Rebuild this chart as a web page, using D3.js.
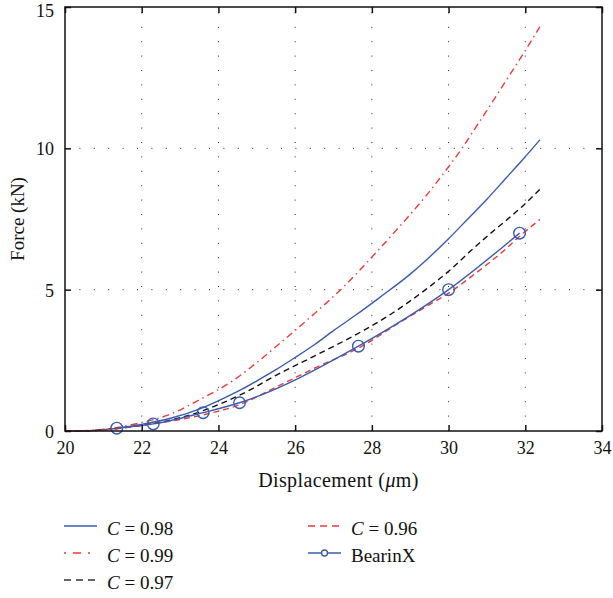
<!DOCTYPE html>
<html>
<head>
<meta charset="utf-8">
<script src="https://cdn.jsdelivr.net/npm/d3@7"></script>
<style>
  body { margin: 0; background: #fff; }
  text { font-family: "Liberation Serif", "Times New Roman", serif; fill: #111; }
</style>
</head>
<body>
<div id="vis"></div>
<script>
const FRAME_WIDTH = 613;
const FRAME_HEIGHT = 598;
const MARGINS = {left: 65, right: 11, top: 7, bottom: 167};

// data: [displacement um, force kN]
const c98 = [[20,0],[20.6,0.01],[21.35,0.09],[21.9,0.21],[22.75,0.45],[23.6,0.83],[24.2,1.2],[24.6,1.47],
  [25.1,1.85],[25.5,2.17],[26,2.6],[26.5,3.05],[27,3.55],[27.6,4.12],[28.2,4.72],[29,5.55],[29.5,6.15],
  [30,6.8],[30.5,7.5],[31,8.2],[31.5,8.95],[31.9,9.55],[32.38,10.3]];
const c99 = [[20,0],[20.5,0.01],[21.2,0.09],[21.9,0.27],[22.7,0.57],[23.5,1.1],[24.4,1.8],[25,2.42],
  [25.6,3.1],[26.5,4.15],[27.3,5.15],[28.1,6.3],[28.7,7.2],[29.4,8.3],[30,9.35],[30.35,10],[30.65,10.62],
  [31.1,11.55],[31.5,12.4],[31.95,13.35],[32.38,14.3]];
const c97 = [[20,0],[20.6,0.01],[21.3,0.08],[22,0.2],[22.8,0.4],[23.6,0.72],[24,0.93],[24.75,1.4],
  [25.5,1.97],[26.5,2.65],[27.6,3.42],[28.4,4.05],[29.4,5.0],[30,5.65],[30.6,6.4],[31.1,7.0],[31.5,7.45],
  [31.95,7.98],[32.38,8.55]];
const c96 = [[20,0],[20.6,0.01],[21.3,0.07],[22,0.2],[22.8,0.36],[23.6,0.57],[24.55,0.93],[25.5,1.55],
  [26.5,2.22],[27.7,2.97],[28.8,3.9],[29.35,4.35],[30.05,4.92],[30.6,5.47],[31.1,6.0],[31.5,6.45],
  [31.86,6.9],[32.38,7.48]];
const bearinx = [[21.35,0.1],[22.3,0.25],[23.6,0.65],[24.55,1.0],[27.65,3.0],[30,5.0],[31.85,7.0]];

const X_TICKS = [20, 22, 24, 26, 28, 30, 32, 34];
const Y_TICKS = [0, 5, 10, 15];

const BLUE = "#3a5bb0";
const RED = "#f03a3a";

const svg = d3.select("#vis").append("svg")
  .attr("width", FRAME_WIDTH)
  .attr("height", FRAME_HEIGHT);

const x = d3.scaleLinear().domain([20, 34]).range([MARGINS.left, FRAME_WIDTH - MARGINS.right]);
const y = d3.scaleLinear().domain([0, 15]).range([FRAME_HEIGHT - MARGINS.bottom, MARGINS.top]);

// dotted grid
const grid = svg.append("g").attr("stroke", "#222").attr("stroke-width", 1).attr("stroke-dasharray", "1,13.4");
grid.selectAll(".gx").data(X_TICKS.slice(1, -1)).enter().append("line")
  .attr("x1", d => x(d)).attr("x2", d => x(d))
  .attr("y1", y(0)).attr("y2", y(15));
grid.selectAll(".gy").data(Y_TICKS.slice(1, -1)).enter().append("line")
  .attr("x1", x(20)).attr("x2", x(34))
  .attr("y1", d => y(d)).attr("y2", d => y(d));

// curves
const line = d3.line().x(d => x(d[0])).y(d => y(d[1])).curve(d3.curveMonotoneX);
const series = [
  {data: c99, color: RED, dash: "7,4,1.5,4"},
  {data: c98, color: BLUE, dash: null},
  {data: c97, color: "#111", dash: "6,4"},
  {data: c96, color: RED, dash: "6,4"},
  {data: bearinx, color: BLUE, dash: null}
];
series.forEach(s => {
  svg.append("path")
    .datum(s.data)
    .attr("fill", "none")
    .attr("stroke", s.color)
    .attr("stroke-width", 1.4)
    .attr("stroke-dasharray", s.dash)
    .attr("d", line);
});
svg.selectAll(".mk").data(bearinx).enter().append("circle")
  .attr("cx", d => x(d[0])).attr("cy", d => y(d[1]))
  .attr("r", 5.8)
  .attr("fill", "none")
  .attr("stroke", BLUE)
  .attr("stroke-width", 1.4);

// axes, ticks pointing inward on all four sides
const xb = d3.axisBottom(x).tickValues(X_TICKS).tickSizeInner(-6).tickSizeOuter(0).tickPadding(10);
const xt = d3.axisTop(x).tickValues(X_TICKS).tickSizeInner(-6).tickSizeOuter(0).tickFormat("");
const yl = d3.axisLeft(y).tickValues(Y_TICKS).tickSizeInner(-6).tickSizeOuter(0).tickPadding(11);
const yr = d3.axisRight(y).tickValues(Y_TICKS).tickSizeInner(-6).tickSizeOuter(0).tickFormat("");

function styleAxis(g) {
  g.select(".domain").remove();
  g.selectAll(".tick line").attr("stroke", "#111").attr("stroke-width", 1.5);
  g.selectAll(".tick text").attr("font-family", "Liberation Serif").attr("font-size", 18).attr("fill", "#111");
}
svg.append("g").attr("transform", `translate(0,${y(0)})`).call(xb).call(styleAxis);
svg.append("g").attr("transform", `translate(0,${y(15)})`).call(xt).call(styleAxis);
const gl = svg.append("g").attr("transform", `translate(${x(20)},0)`).call(yl).call(styleAxis);
// top label would touch the window edge, nudge it down a little
gl.selectAll(".tick text").attr("dy", d => d === 15 ? "0.52em" : "0.36em");
svg.append("g").attr("transform", `translate(${x(34)},0)`).call(yr).call(styleAxis);

svg.append("rect")
  .attr("x", x(20)).attr("y", y(15))
  .attr("width", x(34) - x(20)).attr("height", y(0) - y(15))
  .attr("fill", "none").attr("stroke", "#111").attr("stroke-width", 1.5);

// axis titles
const xt_label = svg.append("text")
  .attr("x", (x(20) + x(34)) / 2 + 5)
  .attr("y", 487)
  .attr("text-anchor", "middle")
  .attr("font-size", 20)
  .attr("letter-spacing", 0.4);
xt_label.append("tspan").text("Displacement (");
xt_label.append("tspan").attr("font-style", "italic").text("μ");
xt_label.append("tspan").text("m)");

svg.append("text")
  .attr("transform", `translate(24,${(y(0) + y(15)) / 2}) rotate(-90)`)
  .attr("text-anchor", "middle")
  .attr("font-size", 19)
  .text("Force (kN)");

// legend
const legend = [
  {label: "0.98", color: BLUE, dash: null, col: 0, row: 0},
  {label: "0.99", color: RED, dash: "2,7,8,7", col: 0, row: 1},
  {label: "0.97", color: "#333", dash: "7,5", col: 0, row: 2},
  {label: "0.96", color: RED, dash: "7,5", col: 1, row: 0},
  {label: "BearinX", color: BLUE, dash: null, col: 1, row: 1, marker: true}
];
const colX = [64, 308];
const rowY = [526, 553, 580];
legend.forEach(l => {
  const lx = colX[l.col], ly = rowY[l.row];
  svg.append("line")
    .attr("x1", lx).attr("x2", lx + 33)
    .attr("y1", ly).attr("y2", ly)
    .attr("stroke", l.color).attr("stroke-width", 1.4)
    .attr("stroke-dasharray", l.dash);
  if (l.marker) {
    svg.append("circle").attr("cx", lx + 16.5).attr("cy", ly).attr("r", 3)
      .attr("fill", "#fff").attr("stroke", l.color).attr("stroke-width", 1.4);
  }
  const t = svg.append("text").attr("x", lx + 43).attr("y", ly + 9).attr("font-size", 19);
  if (l.label === "BearinX") {
    t.text("BearinX");
  } else {
    t.append("tspan").attr("font-style", "italic").text("C");
    t.append("tspan").text(" = " + l.label);
  }
});
</script>
</body>
</html>
